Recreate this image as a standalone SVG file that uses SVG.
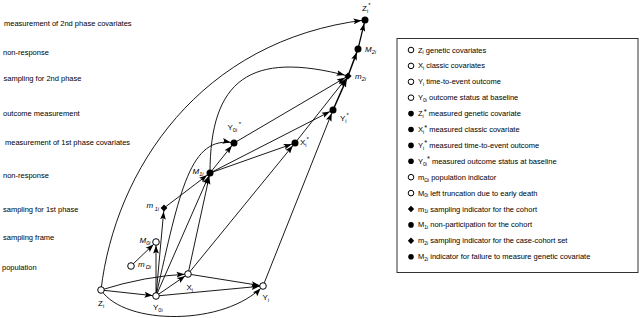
<svg xmlns="http://www.w3.org/2000/svg" width="640" height="318" viewBox="0 0 640 318">
<defs>
<style>
text{font-family:"Liberation Sans",Arial,Helvetica,sans-serif;fill:#000}
.lev{font-size:7.5px;fill:#111}
.lbl{font-size:8px}
.it{font-style:italic}
.sub{font-size:5.5px}
.sup{font-size:6px}
.leg{font-size:7.5px}
.lsub{font-size:5px}
.open{fill:#fff;stroke:#000;stroke-width:1}
.full{fill:#000}
.edge{fill:none;stroke:#000;stroke-width:0.9;marker-end:url(#arr)}
.bold{stroke-width:1.5}
</style>
<marker id="arr" markerUnits="userSpaceOnUse" markerWidth="12" markerHeight="7" viewBox="0 0 12 7" refX="11.5" refY="3.5" orient="auto">
<path d="M0,0.6 L8,3.5 L0,6.4 L1.6,3.5 Z" fill="#000"/>
</marker>
</defs>
<rect width="640" height="318" fill="#fff"/>

<g id="level-labels" class="lev">
<text x="4" y="25.5">measurement of 2nd phase covariates</text>
<text x="3" y="54.5">non-response</text>
<text x="3.5" y="80.5">sampling for 2nd phase</text>
<text x="3" y="115.5">outcome measurement</text>
<text x="5" y="144.5">measurement of 1st phase covariates</text>
<text x="3" y="177.5">non-response</text>
<text x="3" y="211.5">sampling for 1st phase</text>
<text x="3" y="239.5">sampling frame</text>
<text x="2" y="269.5">population</text>
</g>

<g id="connectors">
<path class="edge" d="M101,290 L156,296"/>
<path class="edge" d="M101,290 Q145,276 188,274"/>
<path class="edge" d="M101,290 C125,326 225,326 263,286"/>
<path class="edge" d="M156,296 L188,274"/>
<path class="edge" d="M156,296 L263,286"/>
<path class="edge" d="M188,274 L263,286"/>
<path class="edge" d="M131,266 L156,242"/>
<path class="edge" d="M156,296 L156,242"/>
<path class="edge" d="M156,296 L164,208"/>
<path class="edge" d="M164,208 L210,173"/>
<path class="edge" d="M156,296 L210,173"/>
<path class="edge" d="M188,274 L210,173"/>
<path class="edge" d="M188,274 L295,143"/>
<path class="edge" d="M263,286 L333,110"/>
<path class="edge" d="M210,173 L234,143"/>
<path class="edge" d="M210,173 L295,143"/>
<path class="edge" d="M210,173 L333,110"/>
<path class="edge" d="M156,296 C180,190 190,135 234,143"/>
<path class="edge" d="M210,173 C210,80 250,50 348,76"/>
<path class="edge" d="M234,143 L348,76"/>
<path class="edge" d="M295,143 L348,76"/>
<path class="edge bold" d="M333,110 L348,76"/>
<path class="edge bold" d="M348,76 L358,49"/>
<path class="edge" d="M358,49 L365,20" style="stroke-width:1.2"/>
<path class="edge" d="M101,290 C115,170 200,40 365,20"/>
</g>

<g id="node-Zi"><circle class="open" cx="101" cy="290" r="3.3"/><text class="lbl" x="98" y="306">Z<tspan class="sub" dy="2">i</tspan></text></g>
<g id="node-Y0i"><circle class="open" cx="156" cy="296" r="3.3"/><text class="lbl" x="153" y="310">Y<tspan class="sub" dy="2">0i</tspan></text></g>
<g id="node-Xi"><circle class="open" cx="188" cy="274" r="3.3"/><text class="lbl" x="186.5" y="289.5">X<tspan class="sub" dy="2">i</tspan></text></g>
<g id="node-Yi"><circle class="open" cx="263" cy="286" r="3.3"/><text class="lbl" x="262.5" y="300">Y<tspan class="sub" dy="2">i</tspan></text></g>
<g id="node-mOi"><circle class="open" cx="131" cy="266" r="3.3"/><text class="lbl it" x="138" y="267">m<tspan class="sub" dx="1" dy="2">Ωi</tspan></text></g>
<g id="node-M0i"><circle class="open" cx="156" cy="242" r="3.3"/><text class="lbl it" x="139.5" y="243">M<tspan class="sub" dy="2">0i</tspan></text></g>
<g id="node-m1i"><polygon class="full" points="164,204.6 167.4,208 164,211.4 160.6,208"/><text class="lbl it" x="146.5" y="208">m<tspan class="sub" dx="1.5" dy="2.5">1i</tspan></text></g>
<g id="node-M1i"><circle class="full" cx="210" cy="173" r="3.5"/><text class="lbl it" x="192.5" y="174">M<tspan class="sub" dy="2">1i</tspan></text></g>
<g id="node-Y0is"><circle class="full" cx="234" cy="143" r="3.5"/><text class="lbl" x="227.5" y="130">Y<tspan class="sub" dy="2">0i</tspan><tspan class="sup" dx="1.5" dy="-6">*</tspan></text></g>
<g id="node-Xis"><circle class="full" cx="295" cy="143" r="3.5"/><text class="lbl" x="300" y="145">X<tspan class="sub" dy="2">i</tspan><tspan class="sup" dy="-6">*</tspan></text></g>
<g id="node-Yis"><circle class="full" cx="333" cy="110" r="3.5"/><text class="lbl" x="340" y="121">Y<tspan class="sub" dy="2">i</tspan><tspan class="sup" dy="-6">*</tspan></text></g>
<g id="node-m2i"><polygon class="full" points="348,72.4 351.6,76 348,79.6 344.4,76"/><text class="lbl it" x="355" y="78.5">m<tspan class="sub" dy="2">2i</tspan></text></g>
<g id="node-M2i"><circle class="full" cx="358" cy="49" r="3.5"/><text class="lbl it" x="365" y="51.5">M<tspan class="sub" dy="2">2i</tspan></text></g>
<g id="node-Zis"><circle class="full" cx="365" cy="20" r="3.5"/><text class="lbl" x="362" y="11">Z<tspan class="sub" dy="2">i</tspan><tspan class="sup" dy="-6">*</tspan></text></g>

<g id="legend">
<rect x="397" y="38.5" width="241" height="234" fill="#fff" stroke="#333" stroke-width="1"/>
<circle class="open" cx="411" cy="50" r="2.8"/>
<text class="leg" x="418" y="52.5">Z<tspan class="lsub" dy="1.8">i</tspan><tspan dy="-1.8"> genetic covariates</tspan></text>
<circle class="open" cx="411" cy="65.9" r="2.8"/>
<text class="leg" x="418" y="68.4">X<tspan class="lsub" dy="1.8">i</tspan><tspan dy="-1.8"> classic covariates</tspan></text>
<circle class="open" cx="411" cy="81.8" r="2.8"/>
<text class="leg" x="418" y="84.3">Y<tspan class="lsub" dy="1.8">i</tspan><tspan dy="-1.8"> time-to-event outcome</tspan></text>
<circle class="open" cx="411" cy="97.7" r="2.8"/>
<text class="leg" x="418" y="100.2">Y<tspan class="lsub" dy="1.8">0i</tspan><tspan dy="-1.8"> outcome status at baseline</tspan></text>
<circle class="full" cx="411" cy="113.6" r="2.8"/>
<text class="leg" x="418" y="116.1">Z<tspan class="lsub" dy="1.8">i</tspan><tspan dy="-4.3">*</tspan><tspan dy="2.5"> measured genetic covariate</tspan></text>
<circle class="full" cx="411" cy="129.5" r="2.8"/>
<text class="leg" x="418" y="132">X<tspan class="lsub" dy="1.8">i</tspan><tspan dy="-4.3">*</tspan><tspan dy="2.5"> measured classic covariate</tspan></text>
<circle class="full" cx="411" cy="145.4" r="2.8"/>
<text class="leg" x="418" y="147.9">Y<tspan class="lsub" dy="1.8">i</tspan><tspan dy="-4.3">*</tspan><tspan dy="2.5"> measured time-to-event outcome</tspan></text>
<circle class="full" cx="411" cy="161.3" r="2.8"/>
<text class="leg" x="418" y="163.8">Y<tspan class="lsub" dy="1.8">0i</tspan><tspan dy="-4.3">*</tspan><tspan dy="2.5"> measured outcome status at baseline</tspan></text>
<circle class="open" cx="411" cy="177.2" r="2.8"/>
<text class="leg" x="418" y="179.7">m<tspan class="lsub" dy="1.8">Ωi</tspan><tspan dy="-1.8"> population indicator</tspan></text>
<circle class="open" cx="411" cy="193.1" r="2.8"/>
<text class="leg" x="418" y="195.6">M<tspan class="lsub" dy="1.8">0i</tspan><tspan dy="-1.8"> left truncation due to early death</tspan></text>
<polygon class="full" points="411,205.8 414.2,209 411,212.2 407.8,209"/>
<text class="leg" x="418" y="211.5">m<tspan class="lsub" dy="1.8">1i</tspan><tspan dy="-1.8"> sampling indicator for the cohort</tspan></text>
<circle class="full" cx="411" cy="224.9" r="2.8"/>
<text class="leg" x="418" y="227.4">M<tspan class="lsub" dy="1.8">1i</tspan><tspan dy="-1.8"> non-participation for the cohort</tspan></text>
<polygon class="full" points="411,237.6 414.2,240.8 411,244 407.8,240.8"/>
<text class="leg" x="418" y="243.3">m<tspan class="lsub" dy="1.8">2i</tspan><tspan dy="-1.8"> sampling indicator for the case-cohort set</tspan></text>
<circle class="full" cx="411" cy="256.7" r="2.8"/>
<text class="leg" x="418" y="259.2">M<tspan class="lsub" dy="1.8">2i</tspan><tspan dy="-1.8"> indicator for failure to measure genetic covariate</tspan></text>
</g>
</svg>
